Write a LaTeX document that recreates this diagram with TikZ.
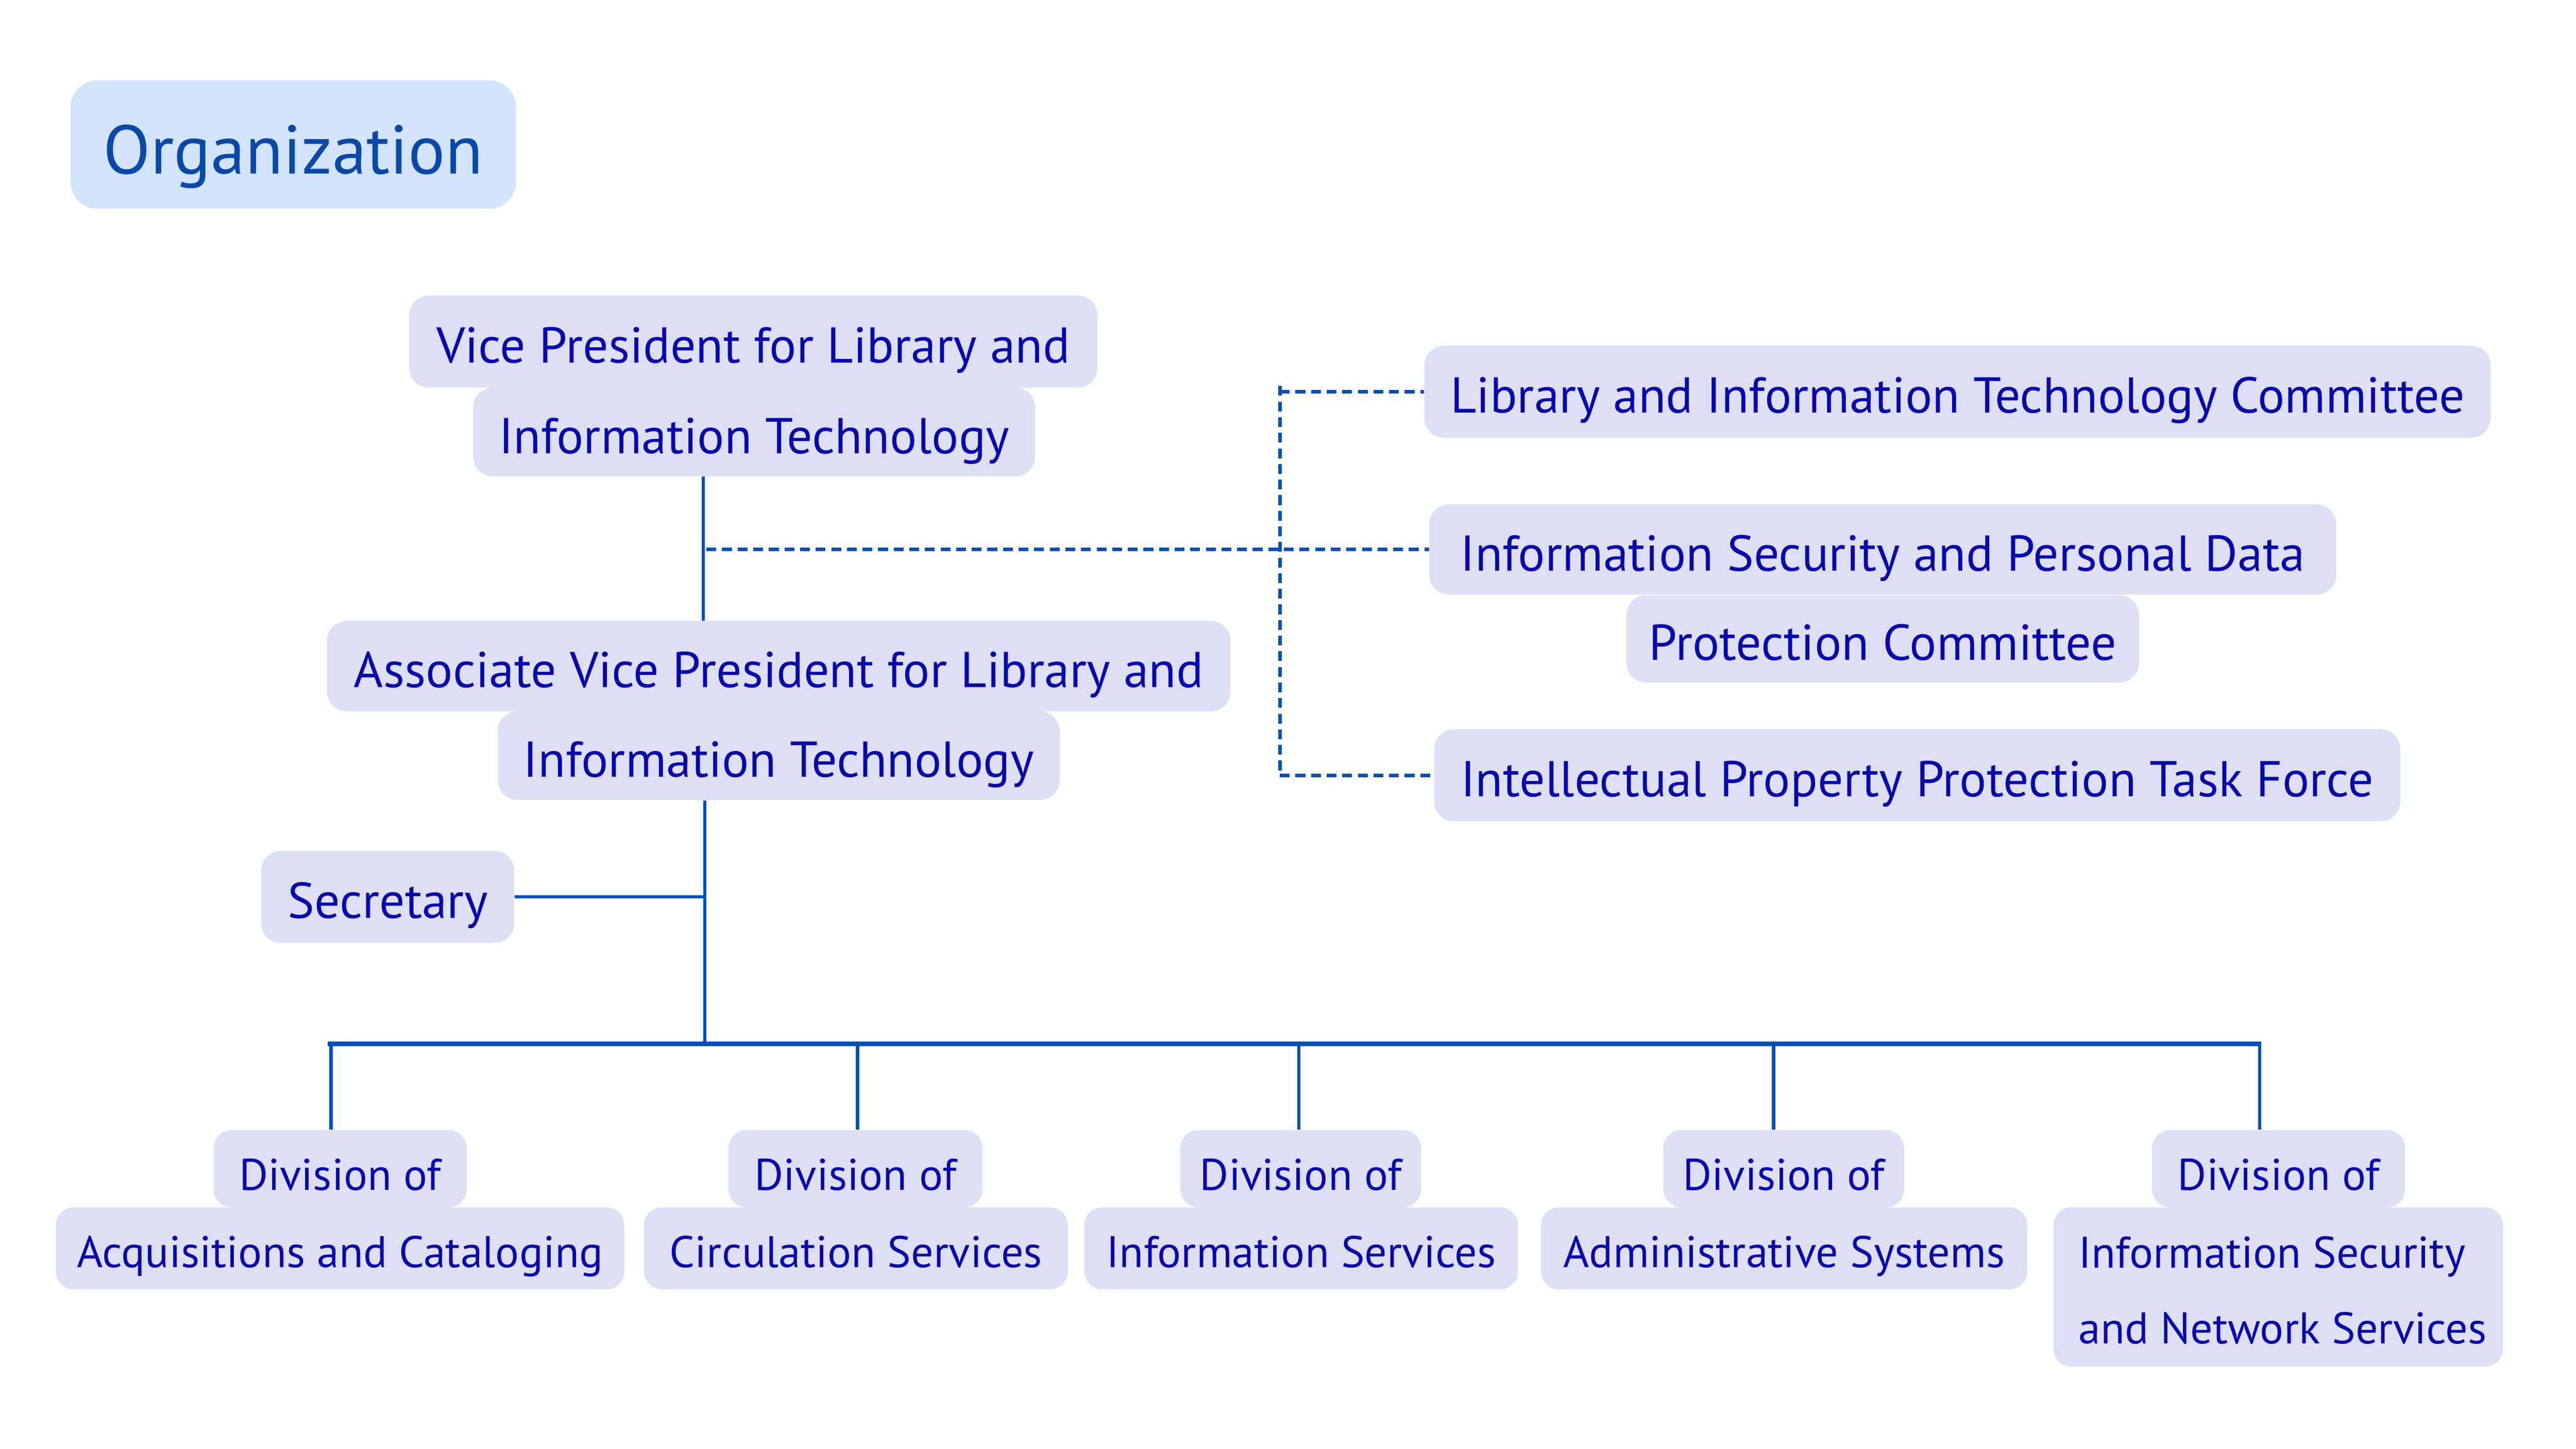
\documentclass[tikz,border=0pt]{standalone}
\usepackage{fontspec}
\setmainfont{PT Sans}
\definecolor{boxfill}{RGB}{222,222,245}
\definecolor{txtc}{RGB}{8,8,170}
\definecolor{connc}{RGB}{5,80,178}
\definecolor{titlefill}{RGB}{210,228,252}
\definecolor{titletxt}{RGB}{10,72,168}
\begin{document}
\begin{tikzpicture}[x=1pt,y=-1pt,
  lbox/.style={fill=boxfill, rounded corners=12pt, text=txtc, inner sep=0pt,
    font=\fontsize{30.7}{37}\selectfont, text height=26pt, text depth=0pt},
  dbox/.style={fill=boxfill, rounded corners=11pt, text=txtc, inner sep=0pt,
    font=\fontsize{27}{33}\selectfont, text height=23pt, text depth=0pt},
  dboxtop/.style={dbox, text height=26pt},
  dtext/.style={text=txtc, inner sep=0pt, font=\fontsize{27}{33}\selectfont},
  titlebox/.style={fill=titlefill, rounded corners=16pt, text=titletxt, inner sep=0pt,
    font=\fontsize{42}{50}\selectfont, text height=36pt, text depth=0pt},
  conn/.style={draw=connc, line width=2pt},
  busline/.style={draw=connc, line width=2.8pt},
  dconn/.style={draw=connc, line width=2.2pt, dash pattern=on 6pt off 3.5pt}]
\useasboundingbox (0,0) rectangle (1568,882);
\fill[white] (0,0) rectangle (1568,882);

% title
\node[titlebox, minimum width=271pt, minimum height=78pt] (title) at (178.5,88) {Organization};

% top level
\node[lbox, minimum width=419pt, minimum height=56pt] (vp1) at (458.5,208) {Vice President for Library and};
\node[lbox, minimum width=342pt, minimum height=54pt] (vp2) at (459,263) {Information Technology};
\node[lbox, minimum width=550pt, minimum height=55pt] (avp1) at (474,405.5) {Associate Vice President for Library and};
\node[lbox, minimum width=342pt, minimum height=54pt] (avp2) at (474,460) {Information Technology};
\node[lbox, minimum width=154pt, minimum height=56pt] (sec) at (236,546) {Secretary};

% committees
\node[lbox, minimum width=649pt, minimum height=56pt] (litc) at (1191.5,238.5) {Library and Information Technology Committee};
\node[lbox, minimum width=552pt, minimum height=55pt] (isp1) at (1146,334.5) {Information Security and Personal Data};
\node[lbox, minimum width=312pt, minimum height=53pt] (isp2) at (1146,389) {Protection Committee};
\node[lbox, minimum width=588pt, minimum height=56pt] (ipp) at (1167,472) {Intellectual Property Protection Task Force};

% divisions
\node[dboxtop, minimum width=154pt, minimum height=47pt] (acq1) at (207,711.5) {Division of};
\node[dbox, minimum width=346pt, minimum height=50pt] (acq2) at (207,760) {Acquisitions and Cataloging};
\node[dboxtop, minimum width=154.5pt, minimum height=47pt] (cir1) at (520.75,711.5) {Division of};
\node[dbox, minimum width=258pt, minimum height=50pt] (cir2) at (521,760) {Circulation Services};
\node[dboxtop, minimum width=146.5pt, minimum height=47pt] (inf1) at (791.75,711.5) {Division of};
\node[dbox, minimum width=264pt, minimum height=50pt] (inf2) at (792,760) {Information Services};
\node[dboxtop, minimum width=146.5pt, minimum height=47pt] (adm1) at (1085.75,711.5) {Division of};
\node[dbox, minimum width=296pt, minimum height=50pt] (adm2) at (1086,760) {Administrative Systems};
\node[dboxtop, minimum width=154pt, minimum height=47pt] (isn1) at (1387,711.5) {Division of};
\node[dbox, minimum width=273.5pt, minimum height=97pt] (isn2) at (1386.75,783.5) {};
\node[dtext, anchor=base west] (isn2a) at (1265,772) {Information Security};
\node[dtext, anchor=base west] (isn2b) at (1265,818) {and Network Services};

% named positions
\coordinate (tx) at (428,0);
\coordinate (tx2) at (429,0);
\coordinate (dst) at (430,0);
\coordinate (vx) at (779,0);
\coordinate (busy) at (0,635.6);
\coordinate (d1) at (201.5,0);
\coordinate (d2) at (522,0);
\coordinate (d3) at (790.5,0);
\coordinate (d4) at (1079.6,0);
\coordinate (d5) at (1375.5,0);
\coordinate (vtop) at (779,235);

% connectors
\draw[conn] (vp2.south -| tx) -- (avp1.north -| tx);
\draw[dconn] (isp1.west -| dst) -- (isp1.west);
\draw[dconn] (vtop) -- (ipp.west -| vx);
\draw[dconn] (litc.west -| vx) -- (litc.west);
\draw[dconn] (ipp.west -| vx) -- (ipp.west);
\draw[conn] (avp2.south -| tx2) -- (busy -| tx2);
\draw[conn] (sec.east) -- (sec.east -| tx2);
\draw[busline] ([xshift=-2pt]busy -| d1) -- ([xshift=1pt]busy -| d5);
\draw[conn] (busy -| d1) -- (acq1.north -| d1);
\draw[conn] (busy -| d2) -- (cir1.north -| d2);
\draw[conn] (busy -| d3) -- (inf1.north -| d3);
\draw[conn] (busy -| d4) -- (adm1.north -| d4);
\draw[conn] (busy -| d5) -- (isn1.north -| d5);
\end{tikzpicture}
\end{document}
